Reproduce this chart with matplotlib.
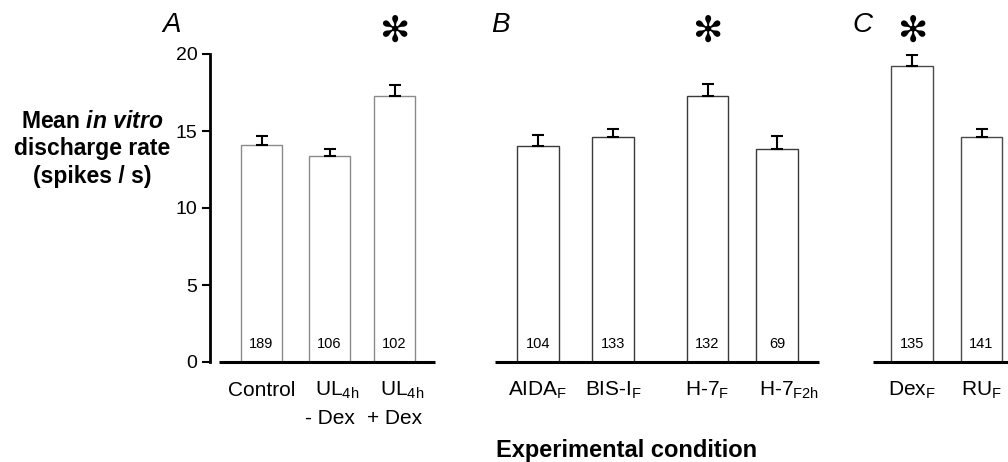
import numpy as np
import matplotlib
matplotlib.use("Agg")
import matplotlib.pyplot as plt

plt.rcParams["font.family"] = ["Liberation Sans", "DejaVu Sans"]
plt.rcParams["mathtext.fontset"] = "custom"
plt.rcParams["mathtext.rm"] = "Liberation Sans"
plt.rcParams["mathtext.it"] = "Liberation Sans:italic"
plt.rcParams["mathtext.bf"] = "Liberation Sans:bold"
plt.rcParams["mathtext.bfit"] = "Liberation Sans:italic:bold"

# --- data ---
panel_a_means = [14.1, 13.35, 17.25]
panel_a_sem = [0.6, 0.5, 0.75]
panel_a_n = [189, 106, 102]
panel_a_labels = [("Control", ""), (r"UL$_{\mathrm{4h}}$", "- Dex"), (r"UL$_{\mathrm{4h}}$", "+ Dex")]
panel_a_sig = [False, False, True]

panel_b_means = [14.05, 14.6, 17.3, 13.85]
panel_b_sem = [0.72, 0.55, 0.75, 0.82]
panel_b_n = [104, 133, 132, 69]
panel_b_labels = [(r"AIDA$_{\mathrm{F}}$", ""), (r"BIS-I$_{\mathrm{F}}$", ""),
                  (r"H-7$_{\mathrm{F}}$", ""), (r"H-7$_{\mathrm{F2h}}$", "")]
panel_b_sig = [False, False, True, False]

panel_c_means = [19.2, 14.6]
panel_c_sem = [0.72, 0.55]
panel_c_n = [135, 141]
panel_c_labels = [(r"Dex$_{\mathrm{F}}$", ""), (r"RU$_{\mathrm{F}}$", "")]
panel_c_sig = [True, False]

# --- layout (pixel positions along the x axis) ---
W, H = 1008, 462
panels = [
    dict(x=[261.5, 329.5, 394.5], span=(219, 435), edge="#8a8a8a", letter="A", lx=172,
         lab_off=[0, 8, 8],
         means=panel_a_means, sem=panel_a_sem, n=panel_a_n, labels=panel_a_labels, sig=panel_a_sig),
    dict(x=[538, 613, 707.5, 777], span=(495, 819), edge="#3a3a3a", letter="B", lx=500,
         lab_off=[0, 0, 0, 12],
         means=panel_b_means, sem=panel_b_sem, n=panel_b_n, labels=panel_b_labels, sig=panel_b_sig),
    dict(x=[912, 981.5], span=(873, 1010), edge="#4a4a4a", letter="C", lx=862,
         lab_off=[0, 0],
         means=panel_c_means, sem=panel_c_sem, n=panel_c_n, labels=panel_c_labels, sig=panel_c_sig),
]
bar_w = 41.5

fig = plt.figure(figsize=(W / 100, H / 100), dpi=100)
ax = fig.add_axes([210 / W, 1 - 362 / H, 1 - 210 / W, (362 - 54) / H])
ax.set_xlim(210, W)
ax.set_ylim(0, 20)

for p in panels:
    ax.bar(p["x"], p["means"], width=bar_w, color="white", edgecolor=p["edge"],
           linewidth=1.0, zorder=2)
    ax.errorbar(p["x"], p["means"], yerr=[np.zeros(len(p["sem"])), p["sem"]], fmt="none",
                ecolor="black", elinewidth=1.5, capsize=4, capthick=1.5, zorder=3)
    ax.hlines(0, p["span"][0], p["span"][1], color="black", linewidth=2.2,
              clip_on=False, zorder=4)
    for xi, off, n, (l1, l2), s in zip(p["x"], p["lab_off"], p["n"], p["labels"], p["sig"]):
        ax.text(xi, 1.15, str(n), ha="center", va="center", fontsize=10.5)
        ax.text(xi + off, -1.85, l1, ha="center", va="center", fontsize=15, clip_on=False)
        if l2:
            ax.text(xi, -3.65, l2, ha="center", va="center", fontsize=15, clip_on=False)
        if s:
            ax.text(xi, 21.45, "\u273b", ha="center", va="center", fontsize=26,
                    family="DejaVu Sans", clip_on=False)
    fig.text(p["lx"] / W, 1 - 25 / H, p["letter"], ha="center", va="center",
             fontsize=20, style="italic")

ax.spines["top"].set_visible(False)
ax.spines["right"].set_visible(False)
ax.spines["bottom"].set_visible(False)
ax.spines["left"].set_linewidth(2)
ax.set_xticks([])
ax.set_yticks([0, 5, 10, 15, 20])
ax.tick_params(axis="y", direction="out", length=6, width=1.5, labelsize=14, pad=3)

fig.text(92 / W, 1 - 122 / H, r"Mean $\mathbfit{in\ vitro}$", ha="center", va="center",
         fontsize=16.5, fontweight="bold")
fig.text(92 / W, 1 - 149 / H, "discharge rate", ha="center", va="center",
         fontsize=16.5, fontweight="bold")
fig.text(92 / W, 1 - 176 / H, "(spikes / s)", ha="center", va="center",
         fontsize=16.5, fontweight="bold")
fig.text(627 / W, 1 - 450 / H, "Experimental condition", ha="center", va="center",
         fontsize=17, fontweight="bold")

fig.savefig("out.png", dpi=100)
